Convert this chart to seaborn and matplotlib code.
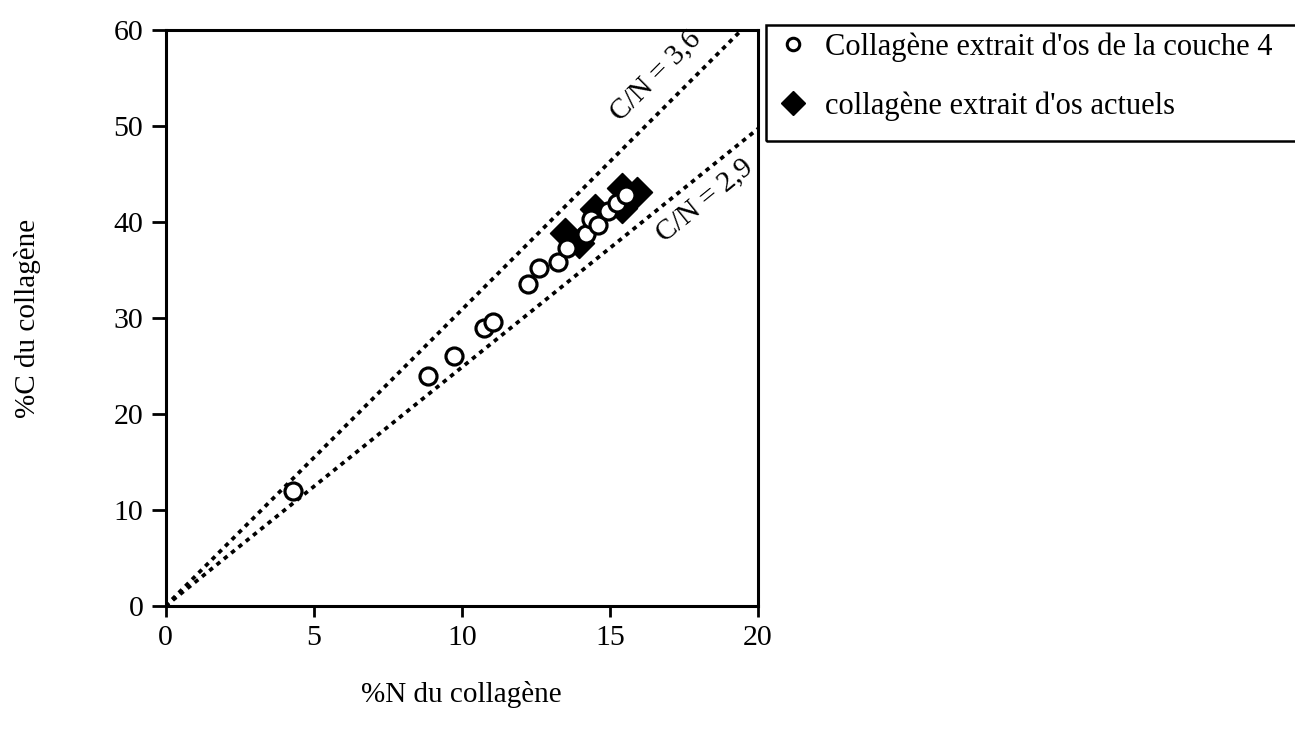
import numpy as np
import pandas as pd
import matplotlib
matplotlib.use("Agg")
import matplotlib.pyplot as plt
import seaborn as sns
from matplotlib.lines import Line2D
from matplotlib.patches import Rectangle

# --- data ---
n_couche4 = [4.3, 8.85, 9.75, 10.75, 11.05, 12.25, 12.6, 13.25, 13.55, 14.2, 14.35, 14.6, 14.95, 15.25, 15.55]
c_couche4 = [12.0, 24.0, 26.0, 29.0, 29.6, 33.5, 35.2, 35.8, 37.3, 38.8, 40.3, 39.7, 41.1, 42.0, 42.8]
n_actuels = [13.5, 13.95, 14.5, 15.4, 15.4, 15.9]
c_actuels = [38.9, 37.8, 41.4, 41.5, 43.5, 43.1]
label_couche4 = "Collagène extrait d'os de la couche 4"
label_actuels = "collagène extrait d'os actuels"
ratios = [3.6, 2.9]
ratio_labels = ["C/N = 3,6", "C/N = 2,9"]
x_ticks = [0, 5, 10, 15, 20]
y_ticks = [0, 10, 20, 30, 40, 50, 60]

df1 = pd.DataFrame({"N": n_couche4, "C": c_couche4})
df2 = pd.DataFrame({"N": n_actuels, "C": c_actuels})

sns.set_theme(style="ticks")
plt.rcParams['font.family'] = ['Liberation Serif', 'DejaVu Serif']

W, H = 1295, 733
fig = plt.figure(figsize=(W / 100, H / 100), dpi=100)
ax = fig.add_axes([165.5 / W, (H - 606) / H, (758 - 165.5) / W, 576 / H])

# reference lines (atomic C/N -> mass ratio * 12/14)
xs = np.array([0.0, 20.0])
for r in ratios:
    ax.plot(xs, xs * r * 12 / 14, color="black", linestyle=(0, (1.2, 1.3)),
            linewidth=2.7, zorder=1, clip_on=True)

sns.scatterplot(data=df2, x="N", y="C", marker="D", s=230, color="black",
                edgecolor="black", linewidth=1.2, ax=ax, zorder=2, legend=False)
sns.scatterplot(data=df1, x="N", y="C", marker="o", s=150, facecolor="white",
                edgecolor="black", linewidth=2.3, ax=ax, zorder=3, legend=False)

ax.text(16.55, 55.2, ratio_labels[0], rotation=45, ha="center", va="center",
        fontsize=21, rotation_mode="anchor", color="black")
ax.text(18.2, 42.2, ratio_labels[1], rotation=39, ha="center", va="center",
        fontsize=21, rotation_mode="anchor", color="black")

ax.set_xlim(0, 20)
ax.set_ylim(0, 60)
ax.set_xticks(x_ticks)
ax.set_yticks(y_ticks)
ax.tick_params(axis="both", direction="out", width=2, labelsize=21.5,
               colors="black", bottom=True, left=True)
ax.tick_params(axis="x", length=8, pad=5.5)
ax.tick_params(axis="y", length=10, pad=6)
for s in ax.spines.values():
    s.set_color("black")
    s.set_linewidth(2.2)
ax.set_xlabel("%N du collagène", fontsize=21, labelpad=22, color="black")
ax.set_ylabel("%C du collagène", fontsize=21, labelpad=52, color="black")

# legend box (extends past the right edge, as in the reference)
fig.patches.append(Rectangle((766 / W, 1 - 141 / H), 0.5, (141 - 25) / H,
                             transform=fig.transFigure, fill=False,
                             edgecolor="black", linewidth=1.8, zorder=5))
handles = [
    Line2D([], [], marker="o", linestyle="none", markerfacecolor="white",
           markeredgecolor="black", markeredgewidth=2.2, markersize=9),
    Line2D([], [], marker="D", linestyle="none", markerfacecolor="black",
           markeredgecolor="black", markersize=12),
]
leg = fig.legend(handles, [label_couche4, label_actuels], loc="upper left",
                 bbox_to_anchor=(770 / W, 1 - 25 / H), fontsize=22,
                 frameon=False, labelspacing=0.95,
                 handletextpad=0.55, borderpad=0.25, handlelength=1.0,
                 borderaxespad=0)
for t in leg.get_texts():
    t.set_color("black")

fig.savefig("out.png", dpi=100, facecolor="white")
